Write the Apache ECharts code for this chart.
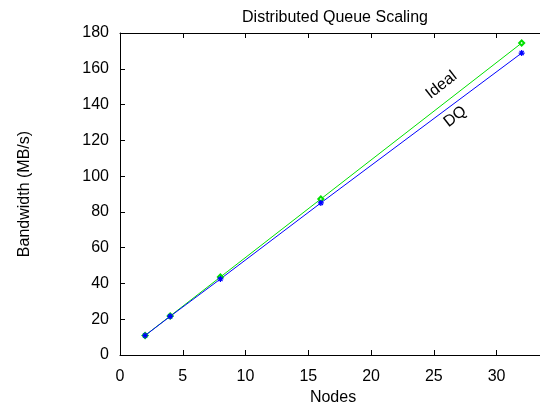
<!DOCTYPE html>
<html><head><meta charset="utf-8">
<script src="https://cdn.jsdelivr.net/npm/echarts@6/dist/echarts.min.js"></script>
<style>html,body{margin:0;padding:0;background:#fff}#c{width:540px;height:406px}</style>
</head><body><div id="c"></div>
<script>
const nodes = [2, 4, 8, 16, 32];
const idealValues = [10.9, 21.8, 43.6, 87.2, 174.4];
const dqValues = [10.9, 21.6, 42.5, 85.0, 168.8];
const xTicks = [0, 5, 10, 15, 20, 25, 30];
const labels = [
  {text: 'Ideal', x: 25.6, y: 150.9},
  {text: 'DQ', x: 26.7, y: 133.2}
];
const FONT = 'Liberation Sans, Arial, sans-serif';
const chart = echarts.init(document.getElementById('c'), null, {renderer: 'canvas'});
const axisLine = {show: true, lineStyle: {color: '#000', width: 1}};
chart.setOption({
  animation: false,
  title: {text: 'Distributed Queue Scaling', left: 330, top: 5, textAlign: 'center',
    textStyle: {fontFamily: FONT, fontSize: 16, fontWeight: 'normal', color: '#000'}},
  grid: {left: 120, right: 0, top: 33, bottom: 51, containLabel: false, outerBoundsMode: 'none'},
  xAxis: [{
    type: 'value', min: 0, max: 33.46, position: 'bottom',
    name: 'Nodes', nameLocation: 'middle', nameGap: 33,
    nameTextStyle: {fontFamily: FONT, fontSize: 16, color: '#000', padding: [0, 0, 0, 6]},
    axisLine: axisLine, splitLine: {show: false},
    axisTick: {show: true, inside: true, length: 5, customValues: xTicks, lineStyle: {color: '#000'}},
    axisLabel: {customValues: xTicks, margin: 14, fontFamily: FONT, fontSize: 16, color: '#000'}
  }, {
    type: 'value', min: 0, max: 33.46, position: 'top',
    axisLine: axisLine, splitLine: {show: false},
    axisTick: {show: true, inside: true, length: 5, customValues: xTicks, lineStyle: {color: '#000'}},
    axisLabel: {show: false}
  }],
  yAxis: {
    type: 'value', min: 0, max: 180, interval: 20,
    name: 'Bandwidth (MB/s)', nameLocation: 'middle', nameGap: 87, nameRotate: 90,
    nameTextStyle: {fontFamily: FONT, fontSize: 16, color: '#000'},
    axisLine: axisLine, splitLine: {show: false},
    axisTick: {show: true, inside: true, length: 5, lineStyle: {color: '#000'}},
    axisLabel: {margin: 11, fontFamily: FONT, fontSize: 16, color: '#000'}
  },
  series: [{
    name: 'Ideal', type: 'line', xAxisIndex: 0,
    data: nodes.map((n, i) => [n, idealValues[i]]),
    symbol: 'emptyDiamond', symbolSize: 5, showAllSymbol: true,
    lineStyle: {color: '#00e000', width: 1},
    itemStyle: {color: '#00e000', borderColor: '#00e000', borderWidth: 1}
  }, {
    name: 'DQ', type: 'line', xAxisIndex: 0,
    data: nodes.map((n, i) => [n, dqValues[i]]),
    symbol: 'path://M0,5L10,5M5,0L5,10M1.5,1.5L8.5,8.5M8.5,1.5L1.5,8.5', symbolSize: 6,
    lineStyle: {color: '#0000ff', width: 1},
    itemStyle: {color: 'none', borderColor: '#0000ff', borderWidth: 1.2}
  }]
});
const elems = labels.map(l => {
  const p = chart.convertToPixel({xAxisIndex: 0, yAxisIndex: 0}, [l.x, l.y]);
  return {type: 'text', x: p[0], y: p[1], rotation: 38 * Math.PI / 180,
    style: {text: l.text, fontFamily: FONT, fontSize: 16, fill: '#000', align: 'center', verticalAlign: 'middle'}};
});
chart.setOption({graphic: elems});
</script></body></html>
